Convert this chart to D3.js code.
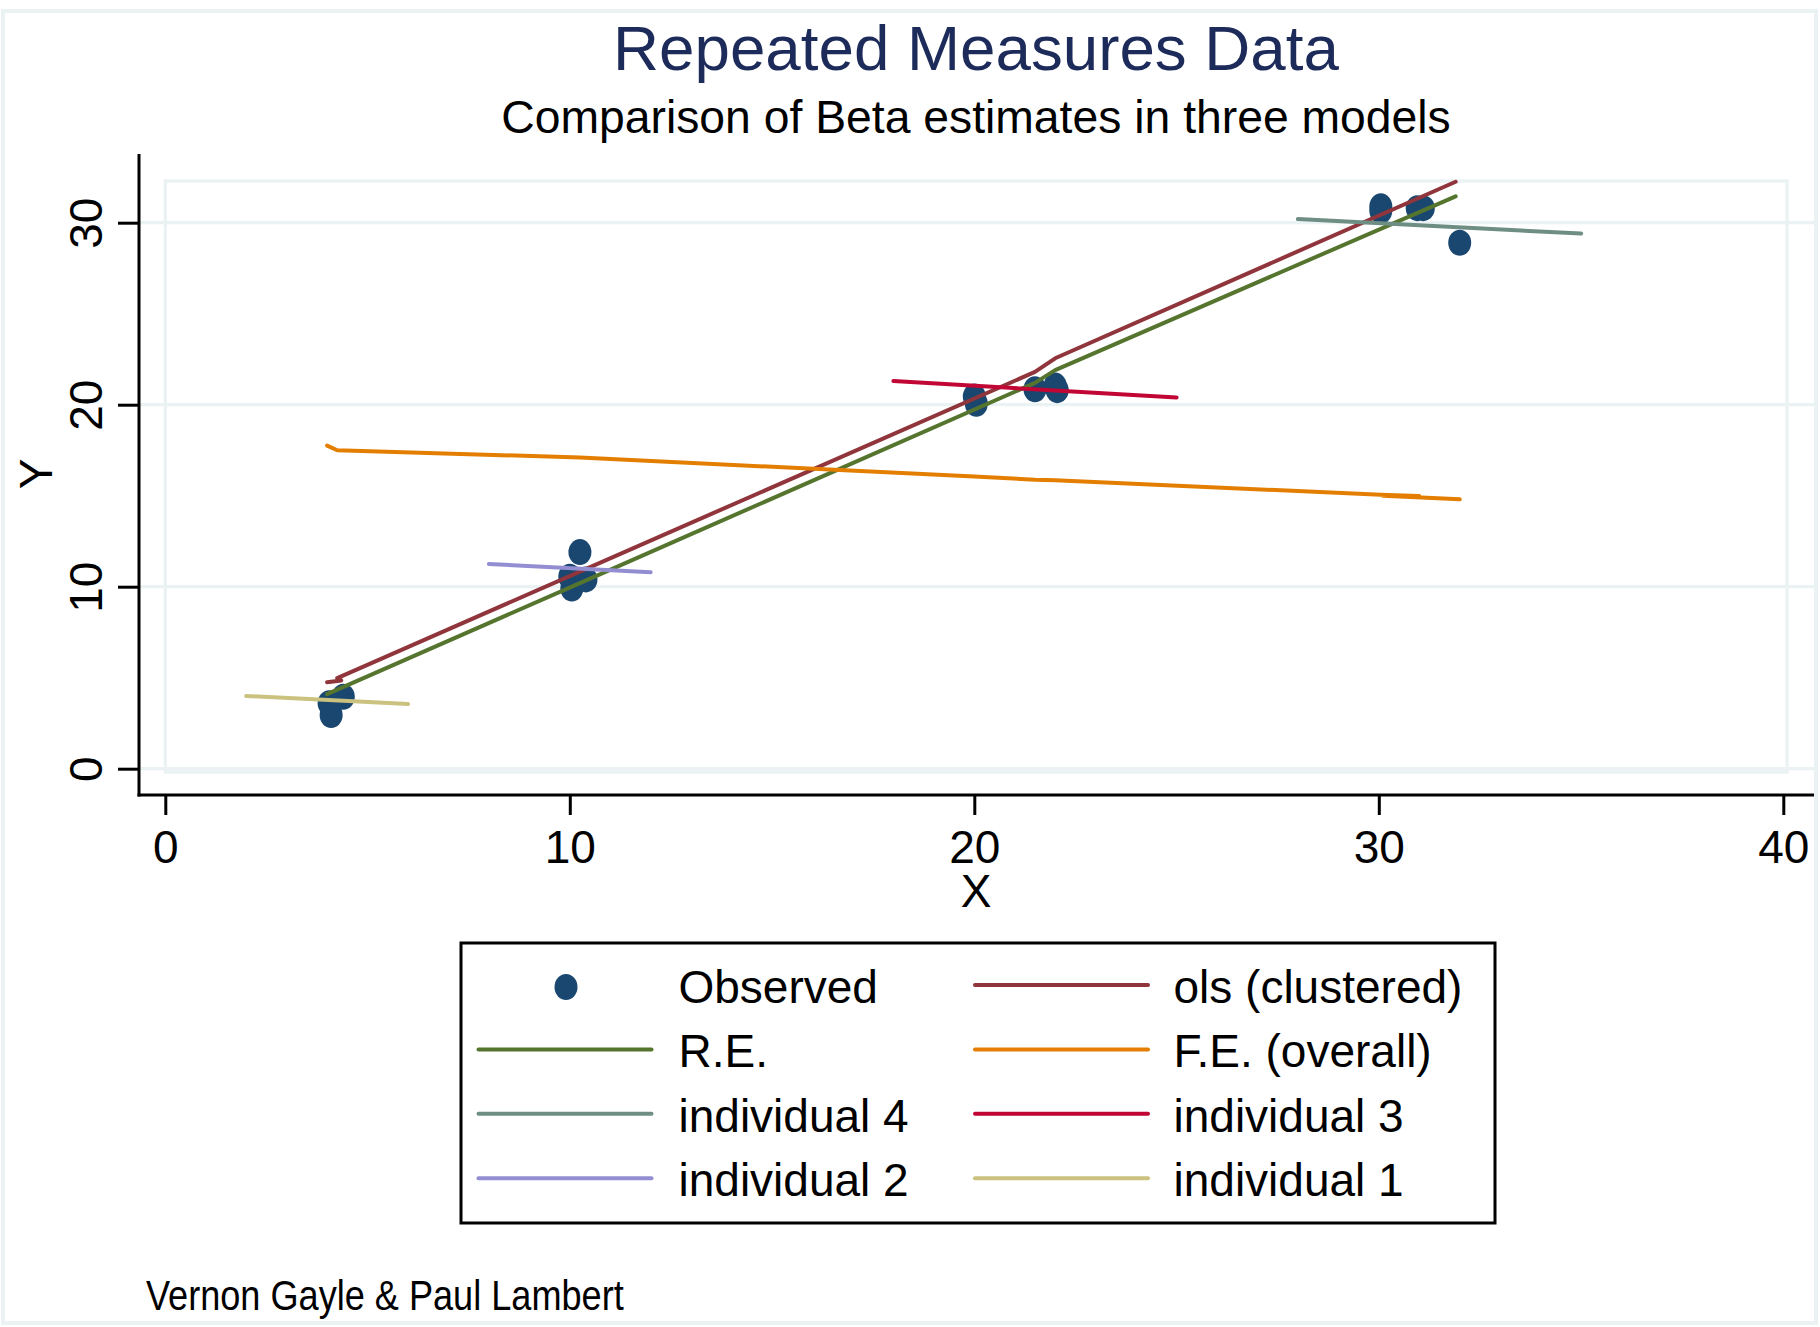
<!DOCTYPE html>
<html>
    <head>
        <meta charset="utf-8">
        <title>Repeated Measures Data</title>
        <script src="https://d3js.org/d3.v7.min.js"></script>
        <style>
            body { margin: 0; background: white; }
            text { font-family: "Liberation Sans", Arial, sans-serif; }
        </style>
    </head>
    <body>
    <script type="text/javascript">
    //observed points
    var obsX = [4.1, 4.05, 4.4, 10.25, 10.05, 10.4, 10.0, 20.0, 20.05, 21.5, 22.0, 22.05, 30.05, 30.05, 30.95, 31.1, 32.0];
    var obsY = [2.95, 3.6, 3.95, 11.9, 9.9, 10.4, 10.55, 20.45, 20.05, 20.85, 21.05, 20.8, 30.9, 30.65, 30.8, 30.8, 28.9];

    //fitted lines (vertices)
    var olsX = [4.0, 4.35, 4.25, 10.25, 21.5, 22.0, 31.9];
    var olsY = [4.75, 4.85, 4.98, 10.83, 21.8, 22.55, 32.25];
    var reX = [4.0, 10.25, 21.5, 22.0, 31.9];
    var reY = [4.1, 10.2, 21.2, 21.9, 31.45];
    var feX = [4.0, 4.25, 10.25, 20.0, 21.5, 22.0, 30.05, 31.0, 30.1, 32.0];
    var feY = [17.75, 17.5, 17.1, 16.05, 15.88, 15.85, 15.05, 14.98, 15.0, 14.8];
    var ind4X = [28, 35], ind4Y = [30.2, 29.4];
    var ind3X = [18, 25], ind3Y = [21.3, 20.4];
    var ind2X = [8, 12], ind2Y = [11.25, 10.8];
    var ind1X = [2, 6], ind1Y = [4.0, 3.55];

    //ticks
    var xTicks = [0, 10, 20, 30, 40];
    var yTicks = [0, 10, 20, 30];

    //legend entries, in plot order
    var legendLabels = ["Observed", "ols (clustered)", "R.E.", "F.E. (overall)", "individual 4", "individual 3", "individual 2", "individual 1"];

    var W = 1820, H = 1327;
    var grid = "#eaf2f3";
    var colors = {obs: "#1a476f", ols: "#90353b", re: "#55752f", fe: "#e37e00",
                  ind4: "#6e8e84", ind3: "#c10534", ind2: "#938dd2", ind1: "#cac27e"};

    var x = d3.scaleLinear().domain([0, 40]).range([165.3, 1783.3]);
    var y = d3.scaleLinear().domain([0, 30]).range([768.7, 222.7]);

    var axisLeftX = 139, axisBottomY = 795, axisTopY = 154, axisRightX = 1814;

    var svg = d3.select("body").append("svg")
        .attr("width", W).attr("height", H);

    //outer frame
    svg.append("rect")
        .attr("x", 3).attr("y", 11).attr("width", 1813).attr("height", 1312)
        .attr("fill", "white").attr("stroke", grid).attr("stroke-width", 4);

    //titles
    svg.append("text")
        .attr("x", 976).attr("y", 70)
        .attr("text-anchor", "middle").attr("font-size", 63.7)
        .attr("fill", "#1c2b5a")
        .text("Repeated Measures Data");
    svg.append("text")
        .attr("x", 976).attr("y", 133)
        .attr("text-anchor", "middle").attr("font-size", 46.3)
        .attr("fill", "black")
        .text("Comparison of Beta estimates in three models");

    //gridlines
    svg.append("g").selectAll("line").data(yTicks).enter().append("line")
        .attr("x1", axisLeftX).attr("x2", axisRightX)
        .attr("y1", function(d){ return y(d); }).attr("y2", function(d){ return y(d); })
        .attr("stroke", grid).attr("stroke-width", 3.3);

    //plot region outline
    svg.append("rect")
        .attr("x", x(0)).attr("y", 181)
        .attr("width", 1787 - x(0)).attr("height", 772 - 181)
        .attr("fill", "none").attr("stroke", grid).attr("stroke-width", 3.3);

    //axes
    var yAxis = d3.axisLeft(y).tickValues(yTicks).tickSize(21).tickSizeOuter(0).tickPadding(0);
    var gy = svg.append("g").attr("transform", "translate(" + axisLeftX + ",0)").call(yAxis);
    gy.select(".domain").remove();
    gy.selectAll(".tick line").attr("stroke", "black").attr("stroke-width", 3);
    gy.selectAll(".tick text")
        .attr("x", null).attr("dy", null)
        .attr("transform", "translate(-37,0) rotate(-90)")
        .attr("text-anchor", "middle").attr("font-size", 46)
        .attr("font-family", "Liberation Sans, Arial, sans-serif").attr("fill", "black");

    var xAxis = d3.axisBottom(x).tickValues(xTicks).tickSize(20).tickSizeOuter(0).tickPadding(0);
    var gx = svg.append("g").attr("transform", "translate(0," + axisBottomY + ")").call(xAxis);
    gx.select(".domain").remove();
    gx.selectAll(".tick line").attr("stroke", "black").attr("stroke-width", 3);
    gx.selectAll(".tick text")
        .attr("y", 68).attr("dy", null)
        .attr("font-size", 46)
        .attr("font-family", "Liberation Sans, Arial, sans-serif").attr("fill", "black");

    svg.append("line")
        .attr("x1", axisLeftX).attr("x2", axisLeftX)
        .attr("y1", axisTopY).attr("y2", axisBottomY + 1.5)
        .attr("stroke", "black").attr("stroke-width", 3);
    svg.append("line")
        .attr("x1", axisLeftX - 1.5).attr("x2", axisRightX)
        .attr("y1", axisBottomY).attr("y2", axisBottomY)
        .attr("stroke", "black").attr("stroke-width", 3);

    //axis titles
    svg.append("text")
        .attr("x", 976).attr("y", 907)
        .attr("text-anchor", "middle").attr("font-size", 46)
        .text("X");
    svg.append("text")
        .attr("transform", "translate(52,474) rotate(-90)")
        .attr("text-anchor", "middle").attr("font-size", 46)
        .text("Y");

    //data
    var plot = svg.append("g");

    plot.append("g").selectAll("ellipse")
        .data(d3.zip(obsX, obsY)).enter().append("ellipse")
        .attr("cx", function(d){ return x(d[0]); })
        .attr("cy", function(d){ return y(d[1]); })
        .attr("rx", 11.5).attr("ry", 13)
        .attr("fill", colors.obs);

    var line = d3.line()
        .x(function(d){ return x(d[0]); })
        .y(function(d){ return y(d[1]); });

    var series = [
        [olsX, olsY, colors.ols],
        [reX, reY, colors.re],
        [feX, feY, colors.fe],
        [ind4X, ind4Y, colors.ind4],
        [ind3X, ind3Y, colors.ind3],
        [ind2X, ind2Y, colors.ind2],
        [ind1X, ind1Y, colors.ind1]
    ];

    series.forEach(function(s){
        plot.append("path")
            .attr("d", line(d3.zip(s[0], s[1])))
            .attr("fill", "none")
            .attr("stroke", s[2])
            .attr("stroke-width", 4)
            .attr("stroke-linecap", "round")
            .attr("stroke-linejoin", "round");
    });

    //legend
    var legend = svg.append("g");
    legend.append("rect")
        .attr("x", 461).attr("y", 943).attr("width", 1034).attr("height", 280)
        .attr("fill", "white").attr("stroke", "black").attr("stroke-width", 3);

    var legendColors = [colors.obs, colors.ols, colors.re, colors.fe, colors.ind4, colors.ind3, colors.ind2, colors.ind1];
    var colKey = [478.5, 975];
    var colText = [678.5, 1173.5];
    var rowY0 = 985, rowStep = 64.4;

    legendLabels.forEach(function(label, i){
        var col = i % 2, row = Math.floor(i / 2);
        var cy = rowY0 + row * rowStep;
        if(i == 0){
            legend.append("ellipse")
                .attr("cx", 566).attr("cy", cy + 2)
                .attr("rx", 11.5).attr("ry", 13)
                .attr("fill", legendColors[i]);
        } else {
            legend.append("line")
                .attr("x1", colKey[col]).attr("x2", colKey[col] + 173)
                .attr("y1", cy).attr("y2", cy)
                .attr("stroke", legendColors[i]).attr("stroke-width", 4)
                .attr("stroke-linecap", "round");
        }
        legend.append("text")
            .attr("x", colText[col]).attr("y", cy + 18)
            .attr("font-size", 46)
            .text(label);
    });

    //note
    svg.append("text")
        .attr("transform", "translate(146,1310) scale(0.86,1)")
        .attr("font-size", 42)
        .text("Vernon Gayle & Paul Lambert");
    </script>
    </body>
</html>
